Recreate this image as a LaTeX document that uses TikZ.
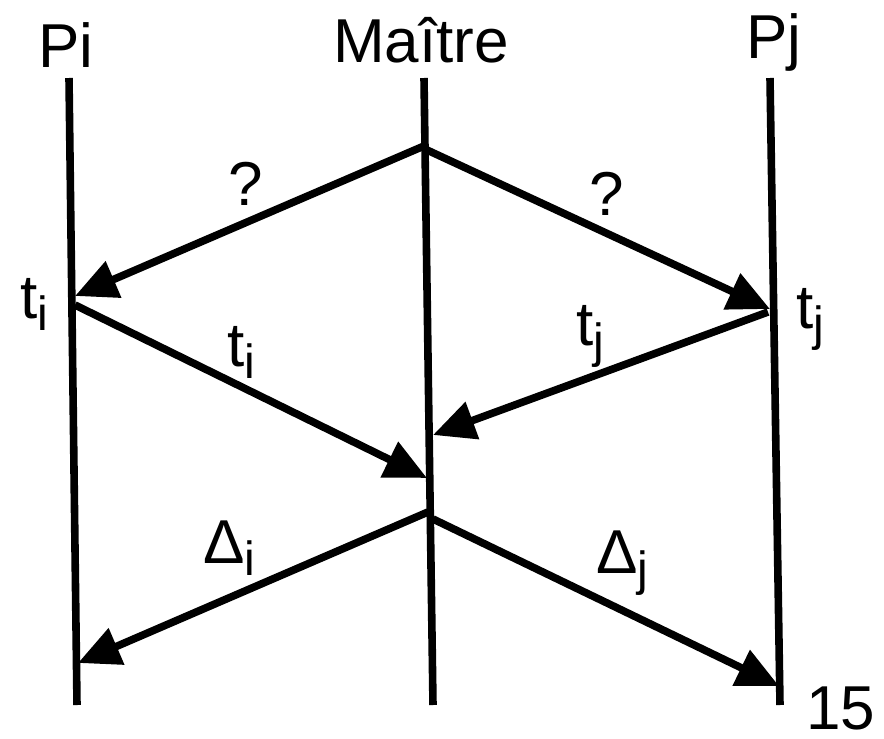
\documentclass[tikz,border=0pt]{standalone}
\usepackage{fontspec}
\setmainfont{Liberation Sans}
\usetikzlibrary{arrows.meta}
\newcommand\idx[1]{\raisebox{-6pt}{\fontsize{24}{26}\selectfont #1}}

\begin{document}
\begin{tikzpicture}[
  x=0.5pt, y=-0.5pt,
  lifeline/.style={
    line width=3.8pt
  },
  msg/.style={
    -{Triangle[length=21pt,width=19pt]},
    line width=3.8pt
  },
  title/.style={
    anchor=base,
    inner sep=0pt,
    font=\fontsize{31}{36}\selectfont
  },
  lbl/.style={
    anchor=base west,
    inner sep=0pt,
    font=\fontsize{31}{36}\selectfont
  }
]
\useasboundingbox (0,0) rectangle (884,739);

\node[title] (pi)     at (66,68)  {Pi};
\node[title] (maitre) at (421,62) {Maître};
\node[title] (pj)     at (774,58) {Pj};

\coordinate (pitop) at (69,78);
\coordinate (pibot) at (77,705);
\coordinate (mtop)  at (424,78);
\coordinate (mbot)  at (433,705);
\coordinate (pjtop) at (770,78);
\coordinate (pjbot) at (780,705);

\draw[lifeline] (pitop) -- (pibot);
\draw[lifeline] (mtop)  -- (mbot);
\draw[lifeline] (pjtop) -- (pjbot);

\coordinate (mA)  at (424,146);
\coordinate (mB)  at (427,150);
\coordinate (piA) at (75,296);
\coordinate (pjA) at (770,309);
\coordinate (piB) at (75,305);
\coordinate (pjB) at (768,312);
\coordinate (mC)  at (427,478);
\coordinate (mD)  at (433,435);
\coordinate (mE)  at (428,512);
\coordinate (mF)  at (433,519);
\coordinate (piC) at (78,663);
\coordinate (pjC) at (779,686);

\draw[msg] (mA)  -- (piA);
\draw[msg] (mB)  -- (pjA);
\draw[msg] (piB) -- (mC);
\draw[msg] (pjB) -- (mD);
\draw[msg] (mE)  -- (piC);
\draw[msg] (mF)  -- (pjC);

\node[title] (qi)   at (246,205) {?};
\node[title] (qj)   at (607,215) {?};
\node[lbl]   (ti)   at (20,318)  {t\idx{i}};
\node[lbl]   (tim)  at (227,366) {t\idx{i}};
\node[lbl]   (tjm)  at (576,345) {t\idx{j}};
\node[lbl]   (tj)   at (796,328) {t\idx{j}};
\node[lbl]   (di)   at (203,563) {Δ\idx{i}};
\node[lbl]   (dj)   at (596,573) {Δ\idx{j}};
\node[lbl]   (num)  at (806,729) {15};

\end{tikzpicture}
\end{document}
